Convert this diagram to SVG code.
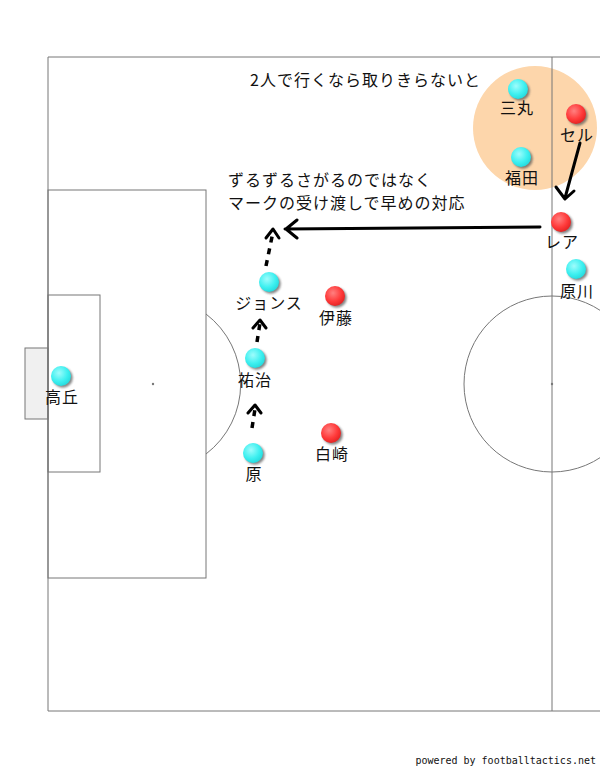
<svg xmlns="http://www.w3.org/2000/svg" width="600" height="768" viewBox="0 0 600 768">
<style>
.ln{fill:none;stroke:#777;stroke-width:1}
.lbl{font-family:"Noto Sans CJK JP","Noto Sans",sans-serif;font-size:16px;letter-spacing:1px;fill:#111;text-anchor:middle}
.note{font-family:"Noto Sans CJK JP","Noto Sans",sans-serif;font-size:16px;letter-spacing:1px;fill:#111}
.arr{fill:none;stroke:#000;stroke-width:3;stroke-linecap:round;stroke-linejoin:round}
.dash{stroke-dasharray:6 6;stroke-linecap:butt;stroke-width:3.5}
</style>
<defs>
<radialGradient id="gc" cx="0.4" cy="0.35" r="0.7">
<stop offset="0" stop-color="#9ffcfc"/><stop offset="0.6" stop-color="#3ef0f0"/><stop offset="1" stop-color="#22d8dc"/>
</radialGradient>
<radialGradient id="gr" cx="0.4" cy="0.35" r="0.7">
<stop offset="0" stop-color="#ff8080"/><stop offset="0.6" stop-color="#ff3a3a"/><stop offset="1" stop-color="#e02020"/>
</radialGradient>
<filter id="sh" x="-50%" y="-50%" width="200%" height="200%"><feGaussianBlur stdDeviation="1.2"/></filter>
<g id="cy"><circle cx="1.8" cy="1.8" r="10" fill="#555" filter="url(#sh)" opacity="0.7"/><circle r="10" fill="url(#gc)"/></g>
<g id="rd"><circle cx="1.8" cy="1.8" r="10" fill="#555" filter="url(#sh)" opacity="0.7"/><circle r="10" fill="url(#gr)"/></g>
</defs>
<rect width="600" height="768" fill="#fff"/>
<circle cx="535" cy="128" r="62" fill="#fdd6ab"/>
<g id="pitch">
<rect x="25" y="348" width="23" height="71" fill="#f0f0f0" stroke="#777"/>
<path class="ln" d="M600 57H48V711H600"/>
<line class="ln" x1="552" y1="57" x2="552" y2="711"/>
<rect class="ln" x="48" y="190" width="158" height="388"/>
<rect class="ln" x="48" y="295" width="52" height="177"/>
<path class="ln" d="M206 314A88 88 0 0 1 206 454"/>
<circle class="ln" cx="552" cy="384" r="88"/>
<circle cx="153" cy="384" r="1.2" fill="#777"/>
<circle cx="552" cy="384" r="1.2" fill="#777"/>
</g>
<text class="note" x="250" y="86">2人で行くなら取りきらないと</text>
<text class="note" x="228" y="186">ずるずるさがるのではなく</text>
<text class="note" x="228" y="209">マークの受け渡しで早めの対応</text>
<g id="connectors">
<path class="arr" d="M580 143L565 198M556 187L565 199L574 191"/>
<path class="arr" d="M540 227L285 229M297 220L286 229L297 238"/>
<path class="arr dash" d="M266 266L273 232"/>
<path class="arr" d="M266 238L273 229L279 238"/>
<path class="arr dash" d="M257 342L260 323"/>
<path class="arr" d="M253 328L260 320L266 328"/>
<path class="arr dash" d="M252 428L255 409"/>
<path class="arr" d="M248 413L255 405L261 413"/>
</g>
<g id="p-mitsumaru"><use href="#cy" x="518" y="89"/><text class="lbl" x="517" y="114">三丸</text></g>
<g id="p-seru"><use href="#rd" x="576" y="114"/><text class="lbl" x="577" y="141">セル</text></g>
<g id="p-fukuda"><use href="#cy" x="521" y="157"/><text class="lbl" x="522" y="184">福田</text></g>
<g id="p-rea"><use href="#rd" x="561" y="222"/><text class="lbl" x="562" y="248">レア</text></g>
<g id="p-harakawa"><use href="#cy" x="576" y="269"/><text class="lbl" x="577" y="297">原川</text></g>
<g id="p-jones"><use href="#cy" x="269" y="282"/><text class="lbl" x="269" y="309">ジョンス</text></g>
<g id="p-ito"><use href="#rd" x="335" y="296"/><text class="lbl" x="336" y="324">伊藤</text></g>
<g id="p-yuji"><use href="#cy" x="255" y="358"/><text class="lbl" x="255" y="386">祐治</text></g>
<g id="p-takaoka"><use href="#cy" x="61" y="376"/><text class="lbl" x="62" y="403">高丘</text></g>
<g id="p-shirasaki"><use href="#rd" x="331" y="433"/><text class="lbl" x="332" y="460">白崎</text></g>
<g id="p-hara"><use href="#cy" x="253" y="453"/><text class="lbl" x="254" y="480">原</text></g>
<text x="596" y="764" text-anchor="end" font-family="'DejaVu Sans Mono','Liberation Mono',monospace" font-size="10" fill="#111">powered by footballtactics.net</text>
</svg>
